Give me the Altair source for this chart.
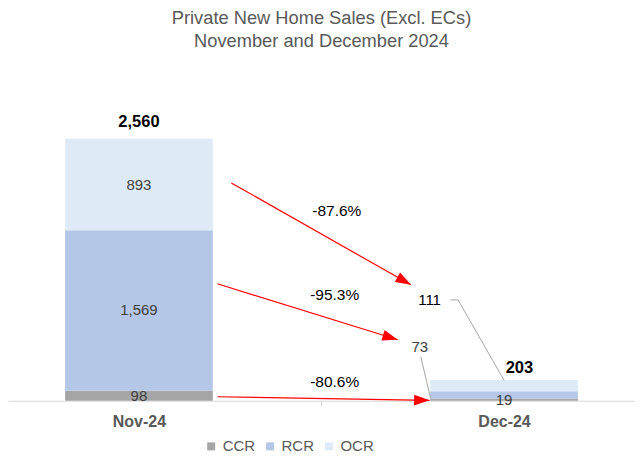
import math

import altair as alt
import pandas as pd

MONTHS = ["Nov-24", "Dec-24"]
REGIONS = ["CCR", "RCR", "OCR"]
NOV = [98, 1569, 893]
DEC = [19, 73, 111]
COLORS = ["#A5A5A5", "#B4C7E7", "#DEEBF7"]

# annotation placement, in data units (x: 0 = Nov-24, 1 = Dec-24), order CCR, RCR, OCR
ARROW_X0 = [0.215, 0.215, 0.253]
ARROW_Y0 = [39, 1143, 2129]
ARROW_X1 = [0.796, 0.709, 0.745]
ARROW_Y1 = [4, 596, 1133]
PCT_X = [0.536, 0.536, 0.542]
PCT_Y = [186, 1035, 1855]

# Dec-24 labels that sit outside the bar (RCR, OCR) and their leader lines
DEC_OUT_X = [0.769, 0.796]
DEC_OUT_Y = [527, 986]
LEADER_X = [[0.772, 0.799], [0.853, 0.874, 1.0]]
LEADER_Y = [[430, 19], [986, 986, 200]]

TOTAL_X = [0, 1.042]
TOTAL_Y = [2724, 322]

W, H = 628, 333
XDOM = [-0.345, 1.345]
YMAX = 3250
FONT = "Liberation Sans"
ARROW_PATH = "M0,0L-2,-0.7L-2,0.7Z"


def build_frames():
    bars = []
    labels = []
    for i, (m, vals) in enumerate(zip(MONTHS, [NOV, DEC])):
        base = 0
        for j, (r, v) in enumerate(zip(REGIONS, vals)):
            bars.append({"x": i, "region": r, "value": v, "ord": j})
            mid = base + v / 2
            base += v
            if i == 1 and j > 0:
                labels.append({"x": DEC_OUT_X[j - 1], "y": DEC_OUT_Y[j - 1], "text": f"{v:,}",
                               "color": "#000000" if j == 2 else "#404040"})
            else:
                labels.append({"x": i, "y": mid, "text": f"{v:,}", "color": "#404040"})

    arrows = pd.DataFrame({"x0": ARROW_X0, "y0": ARROW_Y0, "x1": ARROW_X1, "y1": ARROW_Y1})
    kx = W / (XDOM[1] - XDOM[0])
    ky = H / YMAX
    arrows["ang"] = [
        math.degrees(math.atan2((a - b) * ky, (c - d) * kx))
        for a, b, c, d in zip(ARROW_Y0, ARROW_Y1, ARROW_X1, ARROW_X0)
    ]
    pct = pd.DataFrame({
        "x": PCT_X, "y": PCT_Y,
        "text": [f"{(d - n) / n * 100:.1f}%" for n, d in zip(NOV, DEC)],
    })
    leaders = []
    for g, (xs, ys) in enumerate(zip(LEADER_X, LEADER_Y)):
        for s, (x, y) in enumerate(zip(xs, ys)):
            leaders.append({"x": x, "y": y, "grp": g, "seq": s})
    totals = pd.DataFrame({
        "x": TOTAL_X, "y": TOTAL_Y,
        "text": [f"{sum(NOV):,}", f"{sum(DEC):,}"],
    })
    return pd.DataFrame(bars), pd.DataFrame(labels), arrows, pct, pd.DataFrame(leaders), totals


def build_chart():
    bars_df, labels_df, arrows_df, pct_df, leaders_df, totals_df = build_frames()

    xscale = alt.Scale(domain=XDOM, nice=False, zero=False)
    yscale = alt.Scale(domain=[0, YMAX], nice=False)

    label_expr = (
        f"datum.value < 0.25 ? '{MONTHS[0]}' : datum.value > 0.75 ? '{MONTHS[1]}' : ''"
    )
    x_axis = alt.Axis(
        values=[0, 1],
        labelExpr=label_expr,
        title="",
        grid=False,
        domainColor="#D9D9D9",
        ticks=False,
        labelPadding=13,
        labelFont=FONT,
        labelFontSize=16,
        labelFontWeight="bold",
        labelColor="#595959",
        labelFlush=False,
    )

    # every layer carries the same axis so the shared x axis is not dropped
    def xenc(field):
        return alt.X(field, scale=xscale, axis=x_axis)

    def yenc(field, **kw):
        return alt.Y(field, scale=yscale, axis=None, **kw)

    bars = (
        alt.Chart(bars_df)
        .mark_bar(size=148)
        .encode(
            x=xenc("x:Q"),
            y=yenc("value:Q", stack="zero"),
            color=alt.Color(
                "region:N",
                scale=alt.Scale(domain=REGIONS, range=COLORS),
                legend=alt.Legend(
                    title=None, orient="none", legendX=196, legendY=371,
                    direction="horizontal", symbolType="square", symbolSize=64,
                    symbolStrokeWidth=0, labelFont=FONT, labelFontSize=15,
                    labelColor="#595959", labelOffset=4, columnPadding=7,
                ),
            ),
            order=alt.Order("ord:Q"),
        )
    )

    # the single category-separator tick below the axis line
    sep_tick = (
        alt.Chart(pd.DataFrame({"x": [0.5]}))
        .mark_rule(color="#D9D9D9", strokeWidth=1)
        .encode(x=xenc("x:Q"), y=alt.value(H), y2=alt.value(H + 6))
    )

    labels = (
        alt.Chart(labels_df)
        .mark_text(font=FONT, fontSize=15)
        .encode(x=xenc("x:Q"), y=yenc("y:Q"), text="text:N",
                color=alt.Color("color:N", scale=None))
    )

    arrow_lines = (
        alt.Chart(arrows_df)
        .mark_rule(color="#FF0000", strokeWidth=1.2)
        .encode(x=xenc("x0:Q"), x2="x1:Q", y=yenc("y0:Q"), y2="y1:Q")
    )
    arrow_heads = (
        alt.Chart(arrows_df)
        .mark_point(shape=ARROW_PATH, filled=True, color="#FF0000", size=240, opacity=1)
        .encode(x=xenc("x1:Q"), y=yenc("y1:Q"), angle=alt.Angle("ang:Q", scale=None))
    )

    pct = (
        alt.Chart(pct_df)
        .mark_text(font=FONT, fontSize=15.5, color="#000000")
        .encode(x=xenc("x:Q"), y=yenc("y:Q"), text="text:N")
    )

    leaders = (
        alt.Chart(leaders_df)
        .mark_line(color="#A6A6A6", strokeWidth=1)
        .encode(x=xenc("x:Q"), y=yenc("y:Q"), detail="grp:N", order="seq:Q")
    )

    totals = (
        alt.Chart(totals_df)
        .mark_text(font=FONT, fontSize=16.5, fontWeight="bold", color="#000000")
        .encode(x=xenc("x:Q"), y=yenc("y:Q"), text="text:N")
    )

    chart = (
        alt.layer(bars, sep_tick, leaders, labels, arrow_lines, arrow_heads, pct, totals)
        .properties(
            width=W,
            height=H,
            autosize=alt.AutoSizeParams(type="none"),
            padding={"top": 60, "left": 0, "right": 0, "bottom": 53},
            title=alt.TitleParams(
                text=["Private New Home Sales (Excl. ECs)", "November and December 2024"],
                font=FONT,
                fontSize=18.3,
                fontWeight="normal",
                color="#595959",
                anchor="middle",
                lineHeight=23,
                offset=17,
            ),
        )
        .configure_view(strokeWidth=0, stroke="transparent")
    )
    return chart


if __name__ == "__main__":
    chart = build_chart()
    chart.save("out.html", embed_options={"renderer": "svg", "actions": False})
